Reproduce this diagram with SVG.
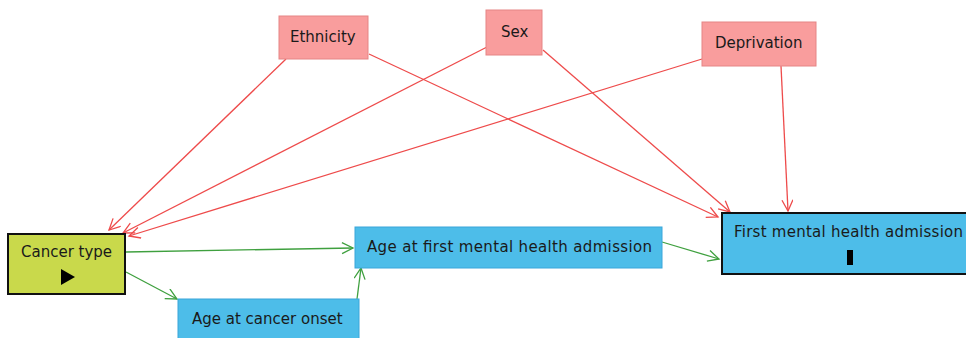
<svg xmlns="http://www.w3.org/2000/svg" width="966" height="338" viewBox="0 0 966 338">
  <style>
    text { font-family: "DejaVu Sans", "Liberation Sans", sans-serif; font-size: 15px; fill: #1a1a1a; }
    .conf { fill: #f99d9d; stroke: #e58585; stroke-width: 1; }
    .med { fill: #4dbde9; stroke: #3aa6da; stroke-width: 1; }
    .outc { fill: #4dbde9; stroke: #111; stroke-width: 2; }
    .expo { fill: #c9d94b; stroke: #111; stroke-width: 2; }
    .red { stroke: #ee4b4b; stroke-width: 1.3; fill: none; marker-end: url(#arrRed); }
    .green { stroke: #3fa03f; stroke-width: 1.3; fill: none; marker-end: url(#arrGreen); }
  </style>
  <defs>
    <marker id="arrRed" markerUnits="userSpaceOnUse" markerWidth="16" markerHeight="16" refX="12" refY="6" orient="auto">
      <path d="M1,0.5 L12,6 L1,11.5" fill="none" stroke="#ee4b4b" stroke-width="1.3"/>
    </marker>
    <marker id="arrGreen" markerUnits="userSpaceOnUse" markerWidth="16" markerHeight="16" refX="12" refY="6" orient="auto">
      <path d="M1,0.5 L12,6 L1,11.5" fill="none" stroke="#3fa03f" stroke-width="1.3"/>
    </marker>
  </defs>

  <g id="connectors">
    <line class="red" x1="286" y1="59" x2="109" y2="230"/>
    <line class="red" x1="487" y1="47" x2="123" y2="233"/>
    <line class="red" x1="702" y1="59" x2="129" y2="236"/>
    <line class="red" x1="369" y1="54" x2="718" y2="217"/>
    <line class="red" x1="543" y1="50" x2="730" y2="212"/>
    <line class="red" x1="781" y1="66" x2="788" y2="211"/>
    <line class="green" x1="126" y1="252" x2="353" y2="248"/>
    <line class="green" x1="126" y1="272" x2="177" y2="299"/>
    <line class="green" x1="357" y1="299" x2="361" y2="268"/>
    <line class="green" x1="662" y1="242" x2="719" y2="259"/>
  </g>

  <g id="ethnicity">
    <rect class="conf" x="279" y="16" width="89" height="43"/>
    <text x="290" y="42">Ethnicity</text>
  </g>
  <g id="sex">
    <rect class="conf" x="486" y="10" width="56" height="45"/>
    <text x="501" y="37">Sex</text>
  </g>
  <g id="deprivation">
    <rect class="conf" x="702" y="22" width="114" height="44"/>
    <text x="715" y="48">Deprivation</text>
  </g>

  <g id="cancer-type">
    <rect class="expo" x="8" y="234" width="117" height="60"/>
    <text x="21" y="257">Cancer type</text>
    <polygon points="61,269 61,285 75,277" fill="#000"/>
  </g>
  <g id="age-first-admission">
    <rect class="med" x="355" y="227" width="307" height="41"/>
    <text x="367" y="252" textLength="285" lengthAdjust="spacing">Age at first mental health admission</text>
  </g>
  <g id="age-cancer-onset">
    <rect class="med" x="178" y="299" width="181" height="45"/>
    <text x="192" y="324">Age at cancer onset</text>
  </g>
  <g id="first-admission">
    <rect class="outc" x="722" y="213" width="260" height="61"/>
    <text x="734" y="237" textLength="229" lengthAdjust="spacing">First mental health admission</text>
    <rect x="847" y="250" width="6" height="15" fill="#000"/>
  </g>
</svg>
